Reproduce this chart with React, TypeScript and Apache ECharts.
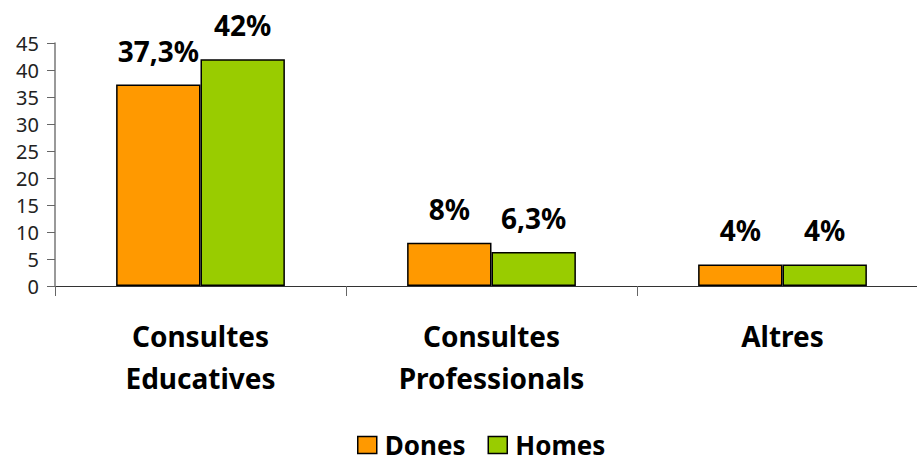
import React, { useEffect, useRef } from "react";
import * as echarts from "echarts";

const categories = ["Consultes\nEducatives", "Consultes\nProfessionals", "Altres"];
const dones = [37.3, 8, 4];
const homes = [42, 6.3, 4];
const yTicks = { min: 0, max: 45, interval: 5 };

const fmt = (v: number) => String(v).replace(".", ",") + "%";

export default function App() {
  const ref = useRef<HTMLDivElement>(null);
  useEffect(() => {
    if (!ref.current) return;
    const chart = echarts.init(ref.current, null, { renderer: "svg" });
    const font = "Noto Sans";
    const labelCfg = {
      show: true,
      position: "top" as const,
      distance: 20,
      fontFamily: font,
      fontWeight: "bold" as const,
      fontSize: 28,
      color: "#000",
      formatter: (p: any) => fmt(p.value),
    };
    chart.setOption({
      animation: false,
      grid: {
        left: 55,
        top: 43,
        width: 873,
        height: 243,
        containLabel: false,
        outerBoundsMode: "none",
      },
      legend: {
        left: 357,
        top: 432,
        padding: 0,
        icon: "rect",
        itemWidth: 19,
        itemHeight: 17,
        itemGap: 22,
        itemStyle: { borderColor: "#000", borderWidth: 1.5 },
        textStyle: { fontFamily: font, fontWeight: "bold", fontSize: 26, lineHeight: 26, color: "#000", padding: [0, 0, 0, 3] },
        data: ["Dones", "Homes"],
      },
      xAxis: {
        type: "category",
        data: categories,
        axisLine: { lineStyle: { color: "#333", width: 1 } },
        axisTick: { show: true, length: 10, lineStyle: { color: "#666" } },
        axisLabel: {
          fontFamily: font,
          fontWeight: "bold",
          fontSize: 28,
          color: "#000",
          margin: 29,
          lineHeight: 42,
          interval: 0,
        },
      },
      yAxis: {
        type: "value",
        min: yTicks.min,
        max: yTicks.max,
        interval: yTicks.interval,
        axisLine: { show: true, lineStyle: { color: "#777", width: 1.5 } },
        axisTick: { show: true, length: 8, lineStyle: { color: "#666" } },
        splitLine: { show: false },
        axisLabel: { fontFamily: font, fontSize: 20, color: "#222", margin: 16 },
      },
      series: [
        {
          name: "Dones",
          type: "bar",
          data: dones,
          barGap: "0%",
          barCategoryGap: "42%",
          itemStyle: { color: "#FF9900", borderColor: "#000", borderWidth: 1.5 },
          label: labelCfg,
        },
        {
          name: "Homes",
          type: "bar",
          data: homes,
          itemStyle: { color: "#99CC00", borderColor: "#000", borderWidth: 1.5 },
          label: labelCfg,
        },
      ],
    });
    return () => chart.dispose();
  }, []);
  return <div ref={ref} style={{ width: 917, height: 463, position: "absolute", left: 0, top: 0 }} />;
}
